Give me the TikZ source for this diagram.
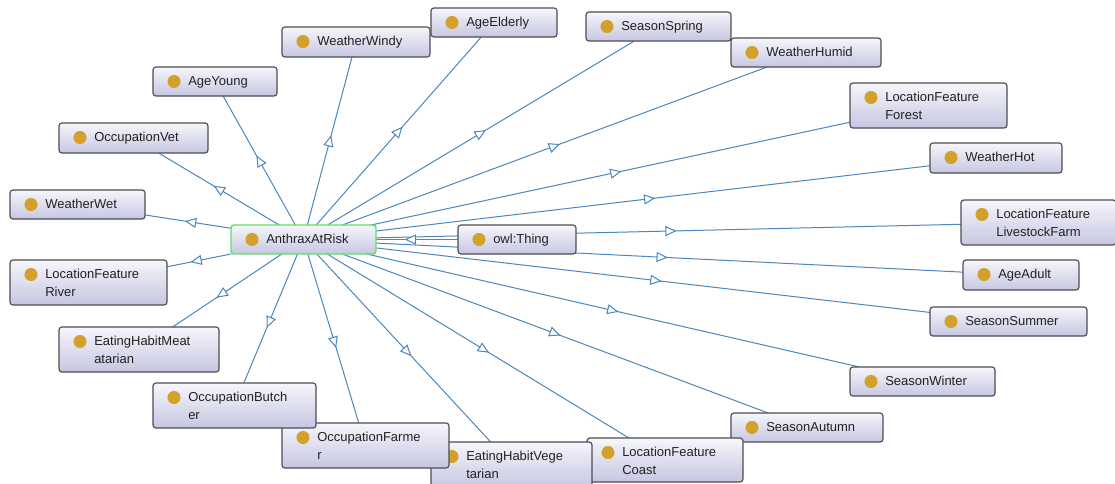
\documentclass[tikz,border=0pt]{standalone}
\usepackage{fontspec}
\setmainfont{Liberation Sans}
\usetikzlibrary{arrows.meta,decorations.markings,fit,calc,backgrounds}

\definecolor{edgeblue}{HTML}{4C86BE}
\definecolor{boxline}{HTML}{4E4E52}
\definecolor{boxtop}{HTML}{F6F6FB}
\definecolor{boxbot}{HTML}{C6C6E2}
\definecolor{classdot}{HTML}{D3A12B}
\definecolor{selgreen}{HTML}{66DD66}
\definecolor{txt}{HTML}{222222}

% class box with one label line: name, left, top, right, bottom, label (px, y downward)
\newcommand\ontoclass[7][]{%
  \node[box,#1,fit={(#3,#4) (#5,#6)}] (#2) {};
  \fill[classdot] ({#3+21},{#4+14.5}) circle[radius=4.9pt];
  \node[lbl,anchor=base west] (#2-t) at ({#3+35},{#4+18.5}) {#7};
}
% class box whose label wraps onto a second line
\newcommand\ontoclasstwo[8][]{%
  \node[box,#1,fit={(#3,#4) (#5,#6)}] (#2) {};
  \fill[classdot] ({#3+21},{#4+14.5}) circle[radius=4.9pt];
  \node[lbl,anchor=base west] (#2-t) at ({#3+35},{#4+36.5}) {#7\\#8};
}

\begin{document}
\begin{tikzpicture}[x=0.75pt,y=-0.75pt,
  box/.style={rectangle,rounded corners=2.2pt,draw=boxline,line width=0.9pt,
    top color=boxtop,bottom color=boxbot,inner sep=0pt,outer sep=0pt},
  lbl/.style={font=\fontsize{9.75pt}{13.5pt}\selectfont,text=txt,inner sep=0pt,align=left},
  edge/.style={draw=edgeblue,line width=0.75pt},
  midtri/.style={decoration={markings,
      mark=at position 0.5 with {\draw[edgeblue,line width=0.75pt,
        -{Triangle[length=8.5pt,width=7.5pt,fill=white]}] (-4.25pt,0) -- (4.25pt,0);}},
    postaction={decorate}}]
\useasboundingbox (0,0) rectangle (1115,483);
\clip (0,0) rectangle (1115,483);

% classes, later ones drawn over earlier ones
\ontoclass[draw=selgreen,line width=1.1pt]{anthrax}{231}{225}{376}{254}{AnthraxAtRisk}
\ontoclass{thing}{458}{225}{576}{254}{owl:Thing}
\ontoclass{wet}{10}{190}{145}{219}{WeatherWet}
\ontoclass{vet}{59}{123}{208}{153}{OccupationVet}
\ontoclass{young}{153}{67}{277}{96}{AgeYoung}
\ontoclass{windy}{282}{27}{430}{57}{WeatherWindy}
\ontoclass{elderly}{431}{8}{557}{37}{AgeElderly}
\ontoclass{spring}{586}{12}{731}{41}{SeasonSpring}
\ontoclass{humid}{731}{38}{881}{67}{WeatherHumid}
\ontoclasstwo{forest}{850}{83}{1007}{128}{LocationFeature}{Forest}
\ontoclass{hot}{930}{143}{1062}{173}{WeatherHot}
\ontoclasstwo{farm}{961}{200}{1116}{245}{LocationFeature}{LivestockFarm}
\ontoclass{adult}{963}{260}{1079}{290}{AgeAdult}
\ontoclass{summer}{930}{307}{1087}{336}{SeasonSummer}
\ontoclass{winter}{850}{367}{995}{396}{SeasonWinter}
\ontoclass{autumn}{731}{413}{883}{442}{SeasonAutumn}
\ontoclasstwo{coast}{587}{438}{743}{482}{LocationFeature}{Coast}
\ontoclasstwo{veg}{431}{442}{592}{487}{EatingHabitVege}{tarian}
\ontoclasstwo{farmer}{282}{423}{449}{468}{OccupationFarme}{r}
\ontoclasstwo{butcher}{153}{383}{316}{428}{OccupationButch}{er}
\ontoclasstwo{meat}{59}{327}{219}{372}{EatingHabitMeat}{atarian}
\ontoclasstwo{river}{10}{260}{167}{305}{LocationFeature}{River}

% subclass links under the boxes, open triangle halfway between centres
\begin{pgfonlayer}{background}
  \fill[white] (0,0) rectangle (1115,483);
  \foreach \c in {wet,vet,young,windy,elderly,spring,humid,forest,hot,farm,
                  adult,summer,winter,autumn,coast,veg,farmer,butcher,meat,river}{
    \draw[edge] (anthrax) -- (\c);
    \path[midtri] (anthrax.center) -- (\c.center);
  }
  \draw[edge] (thing) -- (anthrax);
  \path[midtri] (thing.center) -- (anthrax.center);
\end{pgfonlayer}
\end{tikzpicture}
\end{document}
